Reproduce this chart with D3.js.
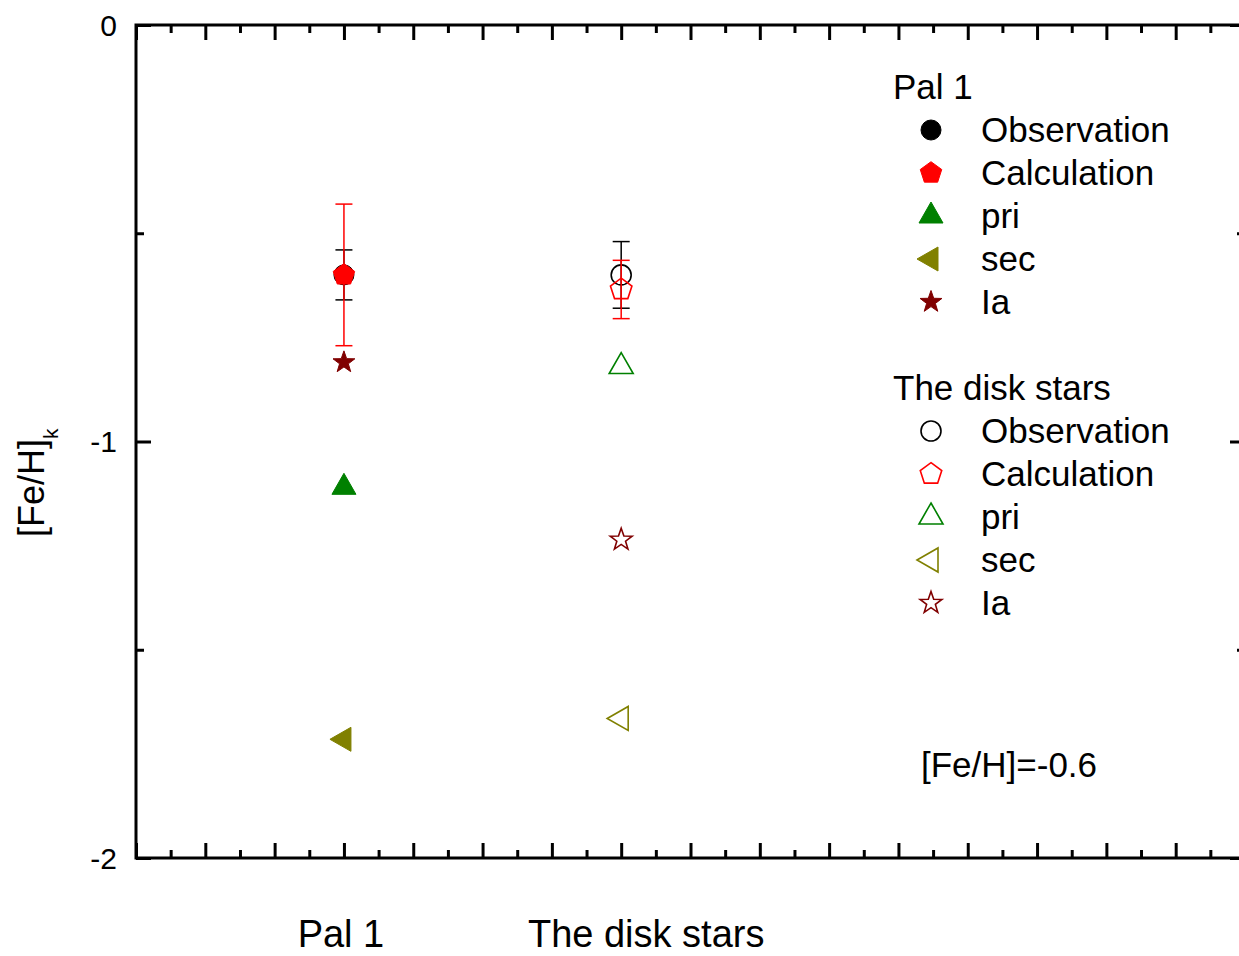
<!DOCTYPE html>
<html>
<head>
<meta charset="utf-8">
<script src="https://cdn.jsdelivr.net/npm/d3@7"></script>
<style>
  html, body { margin: 0; padding: 0; background: #fff; }
  svg { display: block; font-family: "Liberation Sans", Arial, sans-serif; }
</style>
</head>
<body>
<div id="chart"></div>
<script>
// categories on the x axis (x in axis units)
const categories = ["Pal 1", "The disk stars"];
const categoryX = [3, 7];
const seriesNames = ["Observation", "Calculation", "pri", "sec", "Ia"];
const seriesColors = ["#000000", "#ff0000", "#008000", "#808000", "#800000"];
const seriesShapes = ["circle", "pentagon", "triangleUp", "triangleLeft", "star"];

// [Fe/H]_k values, one per series
const pal1Values = [-0.60, -0.60, -1.11, -1.715, -0.81];
const pal1Errors = [0.06, 0.17, null, null, null];
const diskValues = [-0.60, -0.635, -0.82, -1.665, -1.236];
const diskErrors = [0.08, 0.07, null, null, null];

const yTicks = [0, -1, -2];
const yMinorTicks = [-0.5, -1.5];
const annotation = "[Fe/H]=-0.6";

const width = 1239, height = 956;
const margin = { top: 25, left: 136, bottom: 98 };
const plotRight = 1245; // right spine falls just outside the picture

const svg = d3.select('#chart')
  .append('svg')
  .attr('width', width)
  .attr('height', height);

const x = d3.scaleLinear().domain([0, 16]).range([margin.left, plotRight]);
const y = d3.scaleLinear().domain([0, -2]).range([margin.top, height - margin.bottom]);

const majorX = d3.range(0, 16.01, 1);
const minorX = d3.range(0.5, 16, 1);

function styleAxis(g) {
  g.select('.domain').remove();
  g.selectAll('.tick line').attr('stroke', '#000').attr('stroke-width', 3);
  g.selectAll('.tick text').remove();
}

// top / bottom ticks point inward
[[d3.axisBottom, y(-2)], [d3.axisTop, y(0)]].forEach(([ax, pos]) => {
  svg.append('g').attr('transform', `translate(0,${pos})`)
    .call(ax(x).tickValues(majorX).tickSize(-15)).call(styleAxis);
  svg.append('g').attr('transform', `translate(0,${pos})`)
    .call(ax(x).tickValues(minorX).tickSize(-8)).call(styleAxis);
});

[[d3.axisLeft, x(0)], [d3.axisRight, x(16)]].forEach(([ax, pos]) => {
  svg.append('g').attr('transform', `translate(${pos},0)`)
    .call(ax(y).tickValues(yTicks).tickSize(-15)).call(styleAxis);
  svg.append('g').attr('transform', `translate(${pos},0)`)
    .call(ax(y).tickValues(yMinorTicks).tickSize(-8)).call(styleAxis);
});

// frame
svg.append('rect')
  .attr('x', x(0)).attr('y', y(0))
  .attr('width', x(16) - x(0)).attr('height', y(-2) - y(0))
  .attr('fill', 'none').attr('stroke', '#000').attr('stroke-width', 3);

// y tick labels
svg.selectAll('.ylab')
  .data(yTicks)
  .enter()
  .append('text')
  .attr('x', x(0) - 19)
  .attr('y', d => y(d))
  .attr('dy', '0.35em')
  .attr('text-anchor', 'end')
  .attr('font-size', '30px')
  .text(d => d3.format('d')(d).replace('−', '-'));

// y axis title
const yTitle = svg.append('text')
  .attr('transform', 'translate(44,537) rotate(-90)')
  .attr('font-size', '36px');
yTitle.append('tspan').text('[Fe/H]');
yTitle.append('tspan').attr('font-size', '21px').attr('dy', 14).text('k');

// category labels under the axis
const labelShift = [-3, 25];
svg.selectAll('.catlab')
  .data(categories)
  .enter()
  .append('text')
  .attr('x', (d, i) => x(categoryX[i]) + labelShift[i])
  .attr('y', 947)
  .attr('text-anchor', 'middle')
  .attr('font-size', '38px')
  .text(d => d);

// marker shapes
function shapePath(shape) {
  if (shape === 'circle') {
    const r = 10;
    return `M${-r},0A${r},${r} 0 1,0 ${r},0A${r},${r} 0 1,0 ${-r},0Z`;
  }
  if (shape === 'pentagon' || shape === 'star') {
    const R = shape === 'pentagon' ? 11.3 : 11.5;
    const n = shape === 'pentagon' ? 5 : 10;
    const pts = d3.range(n).map(k => {
      const a = -Math.PI / 2 + k * 2 * Math.PI / n;
      const rr = shape === 'star' && k % 2 ? R * 0.4 : R;
      return [rr * Math.cos(a), rr * Math.sin(a)];
    });
    return d3.line()(pts) + 'Z';
  }
  if (shape === 'triangleUp') {
    const w = 24, h = 21;
    return d3.line()([[0, -2 * h / 3], [w / 2, h / 3], [-w / 2, h / 3]]) + 'Z';
  }
  // left-pointing triangle, centred on its centroid
  const w = 21, h = 24;
  return d3.line()([[-2 * w / 3, 0], [w / 3, -h / 2], [w / 3, h / 2]]) + 'Z';
}

function drawMarker(g, shape, color, filled) {
  g.append('path')
    .attr('d', shapePath(shape))
    .attr('fill', filled ? color : 'none')
    .attr('stroke', color)
    .attr('stroke-width', filled ? 1 : 1.6)
    .attr('stroke-linejoin', 'miter');
}

function drawErrorBar(cx, value, err, color) {
  const g = svg.append('g').attr('stroke', color).attr('stroke-width', 1.5);
  const yt = y(value + err), yb = y(value - err);
  g.append('line').attr('x1', cx).attr('x2', cx).attr('y1', yt).attr('y2', yb);
  [yt, yb].forEach(v => g.append('line')
    .attr('x1', cx - 8.5).attr('x2', cx + 8.5).attr('y1', v).attr('y2', v));
}

const groups = [
  { values: pal1Values, errors: pal1Errors, filled: true },
  { values: diskValues, errors: diskErrors, filled: false }
];

groups.forEach((grp, gi) => {
  const cx = x(categoryX[gi]);
  // draw from the bottom of the stack up so obs / calc sit on top
  [2, 3, 4, 0, 1].forEach(si => {
    if (grp.errors[si] != null) {
      drawErrorBar(cx, grp.values[si], grp.errors[si], seriesColors[si]);
    }
    const g = svg.append('g')
      .attr('transform', `translate(${cx},${y(grp.values[si])})`);
    drawMarker(g, seriesShapes[si], seriesColors[si], grp.filled);
  });
});

// legend
const legendTitles = ["Pal 1", "The disk stars"];
legendTitles.forEach((title, gi) => {
  const base = 99 + gi * 301;
  svg.append('text')
    .attr('x', 893).attr('y', base)
    .attr('font-size', '35px')
    .text(title);
  seriesNames.forEach((name, si) => {
    const yy = base + 43 * (si + 1);
    const g = svg.append('g').attr('transform', `translate(931,${yy - 12})`);
    drawMarker(g, seriesShapes[si], seriesColors[si], gi === 0);
    svg.append('text')
      .attr('x', 981).attr('y', yy)
      .attr('font-size', '35px')
      .text(name);
  });
});

svg.append('text')
  .attr('x', 921).attr('y', 777)
  .attr('font-size', '35px')
  .text(annotation);
</script>
</body>
</html>
